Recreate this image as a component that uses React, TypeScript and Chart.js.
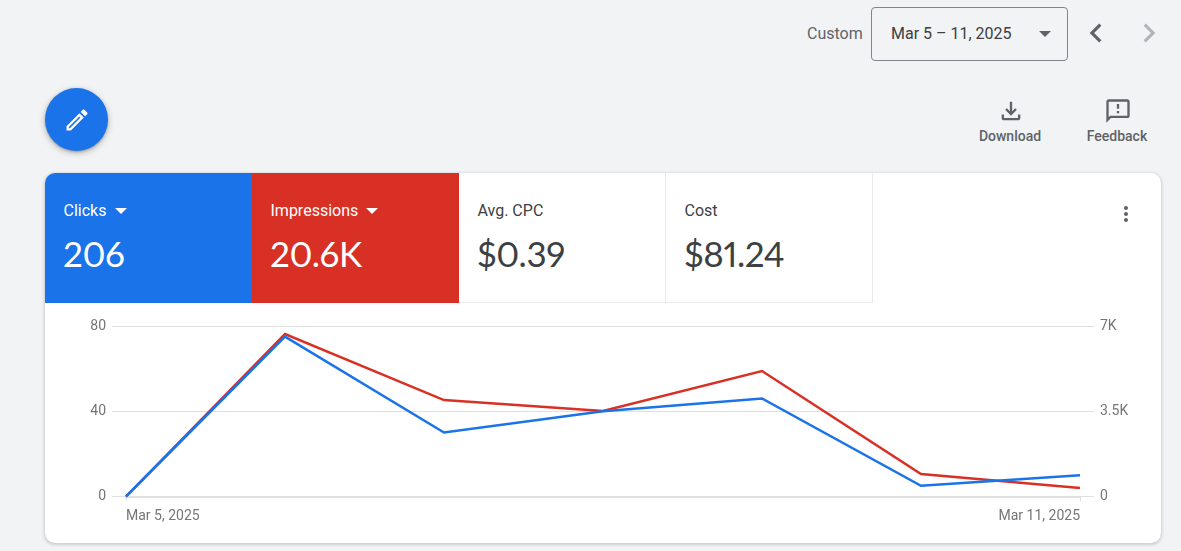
import React, { useEffect, useRef } from "react";
import { Chart, registerables } from "chart.js";

Chart.register(...registerables);

const categories = ["Mar 5, 2025", "Mar 6, 2025", "Mar 7, 2025", "Mar 8, 2025", "Mar 9, 2025", "Mar 10, 2025", "Mar 11, 2025"];
const clicks = [0, 75, 30, 40, 46, 5, 10];
const impressions = [0, 6670, 3960, 3510, 5150, 924, 350];
const leftTicks = [0, 40, 80];
const rightTicks = [0, 3500, 7000];
const rightTickLabels = ["0", "3.5K", "7K"];

const BLUE = "#1a73e8";
const RED = "#d93025";
const GRID = "#e0e0e0";
const TICK_TEXT = "#757575";
const FONT = "Roboto, sans-serif";

const tabs = [
  { label: "Clicks", value: "206", bg: BLUE, fg: "#fff", caret: true, left: 45, width: 207 },
  { label: "Impressions", value: "20.6K", bg: RED, fg: "#fff", caret: true, left: 252, width: 207 },
  { label: "Avg. CPC", value: "$0.39", bg: "#fff", fg: "#3c4043", caret: false, left: 459, width: 207 },
  { label: "Cost", value: "$81.24", bg: "#fff", fg: "#3c4043", caret: false, left: 666, width: 207 },
];

function Icon({ d, cx, cy, size, color }: { d: string; cx: number; cy: number; size: number; color: string }) {
  return (
    <svg
      viewBox="0 0 24 24"
      width={size}
      height={size}
      style={{ position: "absolute", left: cx - size / 2, top: cy - size / 2 }}
    >
      <path d={d} fill={color} />
    </svg>
  );
}

function Caret({ x, y, w, color }: { x: number; y: number; w: number; color: string }) {
  return (
    <div
      style={{
        position: "absolute",
        left: x,
        top: y,
        width: 0,
        height: 0,
        borderLeft: `${w / 2}px solid transparent`,
        borderRight: `${w / 2}px solid transparent`,
        borderTop: `${w / 2}px solid ${color}`,
      }}
    />
  );
}

function Text({ x, cy, size, color, weight, family, center, big, children }: any) {
  return (
    <div
      style={{
        position: "absolute",
        left: center ? x - 100 : x,
        width: center ? 200 : undefined,
        textAlign: center ? "center" : "left",
        top: cy - 20,
        height: 40,
        lineHeight: "40px",
        fontSize: size,
        color,
        fontWeight: weight || 400,
        fontFamily: family || FONT,
        fontVariantNumeric: big ? "proportional-nums" : "normal",
        letterSpacing: big ? -0.4 : "normal",
        whiteSpace: "nowrap",
      }}
    >
      {children}
    </div>
  );
}

export default function App() {
  const ref = useRef<HTMLCanvasElement>(null);

  useEffect(() => {
    const chart = new Chart(ref.current!, {
      type: "line",
      data: {
        labels: categories,
        datasets: [
          { label: "Clicks", data: clicks, yAxisID: "y", borderColor: BLUE, backgroundColor: BLUE, borderWidth: 2.5, pointRadius: 0, tension: 0, clip: false as any },
          { label: "Impressions", data: impressions, yAxisID: "y1", borderColor: RED, backgroundColor: RED, borderWidth: 2.5, pointRadius: 0, tension: 0, clip: false as any },
        ],
      },
      options: {
        animation: false,
        responsive: false,
        maintainAspectRatio: false,
        layout: { padding: { top: 23, left: 0, right: 0, bottom: 0 } },
        plugins: { legend: { display: false }, tooltip: { enabled: false } },
        scales: {
          x: {
            offset: false,
            afterFit: (s: any) => { s.height = 46.5; },
            border: { color: GRID, width: 2 },
            grid: {
              drawOnChartArea: false,
              tickLength: 5,
              tickColor: (c: any) => (c.index === 0 || c.index === categories.length - 1 ? GRID : "transparent"),
            },
            ticks: {
              autoSkip: false,
              maxRotation: 0,
              align: "inner",
              padding: 7,
              color: TICK_TEXT,
              font: { family: FONT, size: 14 },
              callback: (_v: any, i: number) => (i === 0 || i === categories.length - 1 ? categories[i] : ""),
            },
          },
          y: {
            position: "left",
            min: 0,
            max: 80,
            afterFit: (s: any) => { s.width = 81; },
            afterBuildTicks: (s: any) => { s.ticks = leftTicks.map((value) => ({ value })); },
            border: { display: false },
            grid: { color: GRID, tickColor: GRID, tickLength: 14, lineWidth: 1 },
            ticks: { color: TICK_TEXT, padding: 6, font: { family: FONT, size: 14 } },
          },
          y1: {
            position: "right",
            min: 0,
            max: 7000,
            afterFit: (s: any) => { s.width = 81; },
            afterBuildTicks: (s: any) => { s.ticks = rightTicks.map((value) => ({ value })); },
            border: { display: false },
            grid: { drawOnChartArea: false, tickColor: GRID, tickLength: 14 },
            ticks: {
              color: TICK_TEXT,
              padding: 6,
              font: { family: FONT, size: 14 },
              callback: (v: any) => rightTickLabels[rightTicks.indexOf(Number(v))],
            },
          },
        },
      },
    });
    return () => chart.destroy();
  }, []);

  return (
    <div style={{ position: "fixed", left: 0, top: 0, width: 1181, height: 551, background: "#f1f3f4", overflow: "hidden" }}>
      <Text x={807} cy={33.5} size={16} color="#5f6368">Custom</Text>
      <div style={{ position: "absolute", left: 871, top: 7, width: 195, height: 52, border: "1px solid #80868b", borderRadius: 4 }} />
      <Text x={891} cy={33.5} size={16} color="#3c4043">Mar 5 – 11, 2025</Text>
      <Caret x={1039} y={31} w={12} color="#5f6368" />
      <Icon d="M15.41 7.41L14 6l-6 6 6 6 1.41-1.41L10.83 12z" cx={1095.5} cy={33} size={38} color="#5f6368" />
      <Icon d="M10 6L8.59 7.41 13.17 12l-4.58 4.59L10 18l6-6z" cx={1148.5} cy={33} size={38} color="#b1b5b9" />

      <div style={{ position: "absolute", left: 45, top: 88, width: 63, height: 63, borderRadius: "50%", background: BLUE, boxShadow: "0 2px 6px rgba(60,64,67,.35), 0 1px 2px rgba(60,64,67,.3)" }} />
      <Icon d="M14.06 9.02l.92.92L5.92 19H5v-.92l9.06-9.06M17.66 3c-.25 0-.51.1-.7.29l-1.83 1.83 3.75 3.75 1.83-1.83c.39-.39.39-1.02 0-1.41l-2.34-2.34c-.2-.2-.45-.29-.71-.29zm-3.6 3.19L3 17.25V21h3.75L17.81 9.94l-3.75-3.75z" cx={77} cy={120} size={28} color="#fff" />

      <Icon d="M18 15v3H6v-3H4v3c0 1.1.9 2 2 2h12c1.1 0 2-.9 2-2v-3h-2zm-1-4l-1.41-1.41L13 12.17V4h-2v8.17L8.41 9.59 7 11l5 5 5-5z" cx={1010.5} cy={110.5} size={28} color="#5f6368" />
      <Text x={1010} cy={136} size={14} weight={500} color="#5f6368" center>Download</Text>
      <Icon d="M20 2H4c-1.1 0-1.99.9-1.99 2L2 22l4-4h14c1.1 0 2-.9 2-2V4c0-1.1-.9-2-2-2zm0 14H5.17L4 17.17V4h16v12zm-9-4h2v2h-2zm0-6h2v4h-2z" cx={1117.5} cy={110.5} size={28} color="#5f6368" />
      <Text x={1117} cy={136} size={14} weight={500} color="#5f6368" center>Feedback</Text>

      <div style={{ position: "absolute", left: 45, top: 173, width: 1116, height: 370, background: "#fff", borderRadius: 10, boxShadow: "0 1px 3px 1px rgba(60,64,67,.2)", overflow: "hidden" }} />
      <div style={{ position: "absolute", left: 45, top: 173, width: 1116, height: 130, borderRadius: "10px 10px 0 0", overflow: "hidden" }}>
        {tabs.map((t) => (
          <div key={t.label} style={{ position: "absolute", left: t.left - 45, top: 0, width: t.width, height: 130, background: t.bg, boxSizing: "border-box", borderRight: t.caret ? "none" : "1px solid #e8eaed", borderBottom: t.caret ? "none" : "1px solid #e8eaed" }} />
        ))}
      </div>
      {tabs.map((t) => (
        <React.Fragment key={t.label}>
          <Text x={t.left + 18.5} cy={211} size={16} color={t.caret ? "#fff" : "#3c4043"}>{t.label}</Text>
          <Text x={t.left + 18} cy={253} size={35} color={t.fg} family="Lato, sans-serif" big>{t.value}</Text>
        </React.Fragment>
      ))}
      <Caret x={115} y={208} w={12} color="#fff" />
      <Caret x={366} y={208} w={13} color="#fff" />
      <Icon d="M12 8c1.1 0 2-.9 2-2s-.9-2-2-2-2 .9-2 2 .9 2 2 2zm0 2c-1.1 0-2 .9-2 2s.9 2 2 2 2-.9 2-2-.9-2-2-2zm0 6c-1.1 0-2 .9-2 2s.9 2 2 2 2-.9 2-2-.9-2-2-2z" cx={1125.5} cy={213.5} size={24} color="#5f6368" />

      <canvas ref={ref} width={1116} height={240} style={{ position: "absolute", left: 45, top: 303, width: 1116, height: 240 }} />
    </div>
  );
}
